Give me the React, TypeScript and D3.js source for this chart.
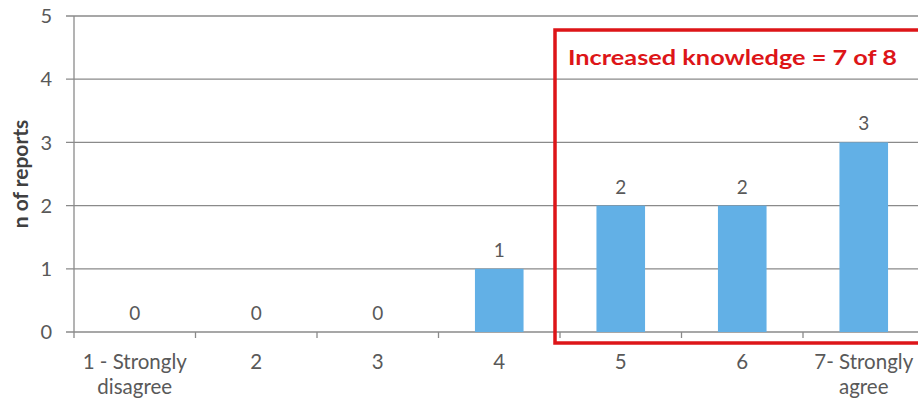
import React from "react";
import * as d3 from "d3";

const categories = ["1", "2", "3", "4", "5", "6", "7"];
const categoryLabels: string[][] = [
  ["1 - Strongly", "disagree"],
  ["2"],
  ["3"],
  ["4"],
  ["5"],
  ["6"],
  ["7- Strongly", "agree"],
];
const values = [0, 0, 0, 1, 2, 2, 3];
const yTicks = [0, 1, 2, 3, 4, 5];
const annotation = "Increased knowledge = 7 of 8";
const yTitle = "n of reports";

const W = 918;
const H = 398;
const left = 74;
const bandW = 121.5;
const top = 16;
const bottom = 332;
const font = "Lato, 'Open Sans', 'DejaVu Sans', sans-serif";

export default function App() {
  const x = d3
    .scaleBand<string>()
    .domain(categories)
    .range([left, left + bandW * categories.length])
    .paddingInner(0.6)
    .paddingOuter(0.3);
  const xb = d3.scaleBand<string>().domain(categories).range([left, left + bandW * categories.length]);
  const y = d3.scaleLinear().domain([0, 5]).range([bottom, top]);
  const grid = "#8a8a8a";
  const text = "#595959";
  return (
    <div style={{ position: "absolute", left: 0, top: 0 }}>
      <svg width={W} height={H} style={{ display: "block", background: "#fff" }}>
        {yTicks.map((t) => (
          <g key={t}>
            <line x1={66} x2={W} y1={y(t)} y2={y(t)} stroke={grid} strokeWidth={1.3} />
            <text x={52} y={y(t)} dy="0.36em" textAnchor="end" fontFamily={font} fontSize={20} fill={text}>
              {t}
            </text>
          </g>
        ))}
        <line x1={left} x2={left} y1={top} y2={bottom + 6} stroke={grid} strokeWidth={1.3} />
        {categories.map((c) => (
          <line
            key={"t" + c}
            x1={(xb(c) as number) + bandW}
            x2={(xb(c) as number) + bandW}
            y1={bottom}
            y2={bottom + 6}
            stroke={grid}
            strokeWidth={1.3}
          />
        ))}
        {categories.map((c, i) => {
          const bx = x(c) as number;
          const cx = bx + x.bandwidth() / 2;
          return (
            <g key={c}>
              {values[i] > 0 && (
                <rect x={bx} y={y(values[i])} width={x.bandwidth()} height={y(0) - y(values[i])} fill="#62b0e6" />
              )}
              <text x={cx} y={y(values[i]) - 12} textAnchor="middle" fontFamily={font} fontSize={19} fill={text}>
                {values[i]}
              </text>
              {categoryLabels[i].map((l, j) => (
                <text
                  key={j}
                  x={cx}
                  y={369 + j * 25}
                  textAnchor="middle"
                  fontFamily={font}
                  fontSize={20.5}
                  fill={text}
                >
                  {l}
                </text>
              ))}
            </g>
          );
        })}
        <text
          transform={`translate(28, ${(top + bottom) / 2}) rotate(-90)`}
          textAnchor="middle"
          fontFamily={font}
          fontSize={21}
          fontWeight={700}
          fill="#404040"
        >
          {yTitle}
        </text>
        <rect x={555} y={30} width={W} height={313} fill="none" stroke="#dd1518" strokeWidth={3.5} />
        <text
          x={568}
          y={65}
          fontFamily={font}
          fontSize={20}
          fontWeight={700}
          fill="#dd1518"
          textLength={329}
          lengthAdjust="spacingAndGlyphs"
        >
          {annotation}
        </text>
      </svg>
    </div>
  );
}
